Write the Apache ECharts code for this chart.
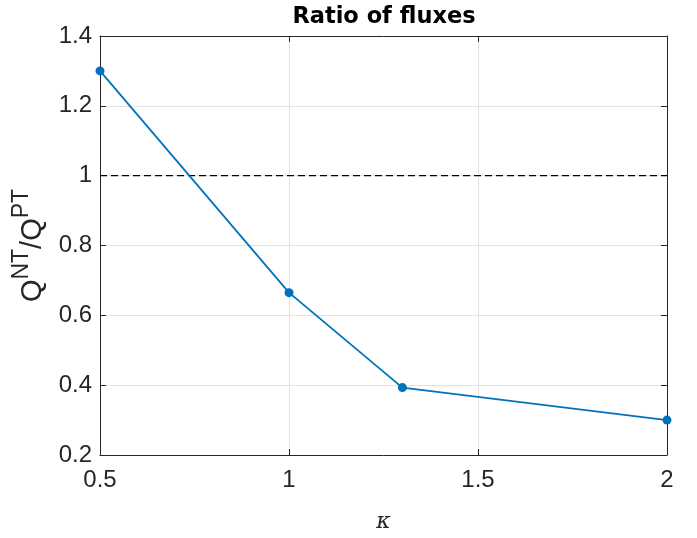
<!DOCTYPE html>
<html><head><meta charset="utf-8">
<script src="https://cdn.jsdelivr.net/npm/echarts@6/dist/echarts.min.js"></script>
<style>html,body{margin:0;padding:0;background:#fff}#c{width:697px;height:538px}</style>
</head><body><div id="c"></div>
<script>
const kappa = [0.5, 1, 1.3, 2];
const ratio = [1.30, 0.665, 0.393, 0.30];
const refLevel = 1;
const xTicks = [0.5, 1, 1.5, 2];
const yTicks = [0.2, 0.4, 0.6, 0.8, 1, 1.2, 1.4];
const titleText = 'Ratio of fluxes';

const axisCol = '#262626';
const font = 'Liberation Sans, Arial, Helvetica, sans-serif';
const chart = echarts.init(document.getElementById('c'));
const baseX = {
  type: 'value', min: xTicks[0], max: xTicks[xTicks.length-1], interval: 0.5,
  axisLine: {show: true, onZero: false, lineStyle: {color: axisCol, width: 1}},
  axisTick: {show: true, inside: true, length: 6, lineStyle: {color: axisCol}},
};
const baseY = {
  type: 'value', min: yTicks[0], max: yTicks[yTicks.length-1], interval: 0.2,
  axisLine: {show: true, onZero: false, lineStyle: {color: axisCol, width: 1}},
  axisTick: {show: true, inside: true, length: 6, lineStyle: {color: axisCol}},
};
chart.setOption({
  animation: false,
  title: {text: titleText, left: 379, top: 1, textAlign: 'center',
    textStyle: {fontFamily: 'DejaVu Sans, sans-serif', fontWeight: 'bold', fontSize: 22.5, color: '#000'}},
  grid: {left: 100, right: 30, top: 36, bottom: 80},
  xAxis: [
    Object.assign({}, baseX, {position: 'bottom',
      axisLabel: {fontFamily: font, fontSize: 24, color: axisCol, margin: 13},
      splitLine: {show: true, lineStyle: {color: '#e3e3e3', width: 1}},
      name: 'κ', nameLocation: 'middle', nameGap: 56,
      nameTextStyle: {fontFamily: 'DejaVu Serif, serif', fontStyle: 'italic', fontSize: 22, color: axisCol}}),
    Object.assign({}, baseX, {position: 'top', axisLabel: {show: false}, splitLine: {show: false}})
  ],
  yAxis: [
    Object.assign({}, baseY, {position: 'left',
      axisLabel: {fontFamily: font, fontSize: 24, color: axisCol, margin: 8},
      splitLine: {show: true, lineStyle: {color: '#e3e3e3', width: 1}},
      name: '{a|Q}{s|NT}{a|/Q}{s|PT}', nameLocation: 'middle', nameGap: 50, nameRotate: 90,
      nameTextStyle: {color: axisCol, rich: {
        a: {fontFamily: font, fontSize: 29, color: axisCol, verticalAlign: 'bottom', lineHeight: 38},
        s: {fontFamily: font, fontSize: 23, color: axisCol, verticalAlign: 'top', lineHeight: 38, padding: [0,0,12,0]}
      }}}),
    Object.assign({}, baseY, {position: 'right', axisLabel: {show: false}, splitLine: {show: false}})
  ],
  series: [
    {type: 'line', xAxisIndex: 0, yAxisIndex: 0,
     data: [[xTicks[0], refLevel], [xTicks[xTicks.length-1], refLevel]],
     symbol: 'none', lineStyle: {color: '#000', width: 1.2, type: [7, 4]}, silent: true, z: 3},
    {type: 'line', xAxisIndex: 0, yAxisIndex: 0,
     data: kappa.map((k, i) => [k, ratio[i]]),
     symbol: 'circle', symbolSize: 9, showSymbol: true,
     itemStyle: {color: '#0072BD'}, lineStyle: {color: '#0072BD', width: 1.8}, z: 4}
  ]
});
</script></body></html>
